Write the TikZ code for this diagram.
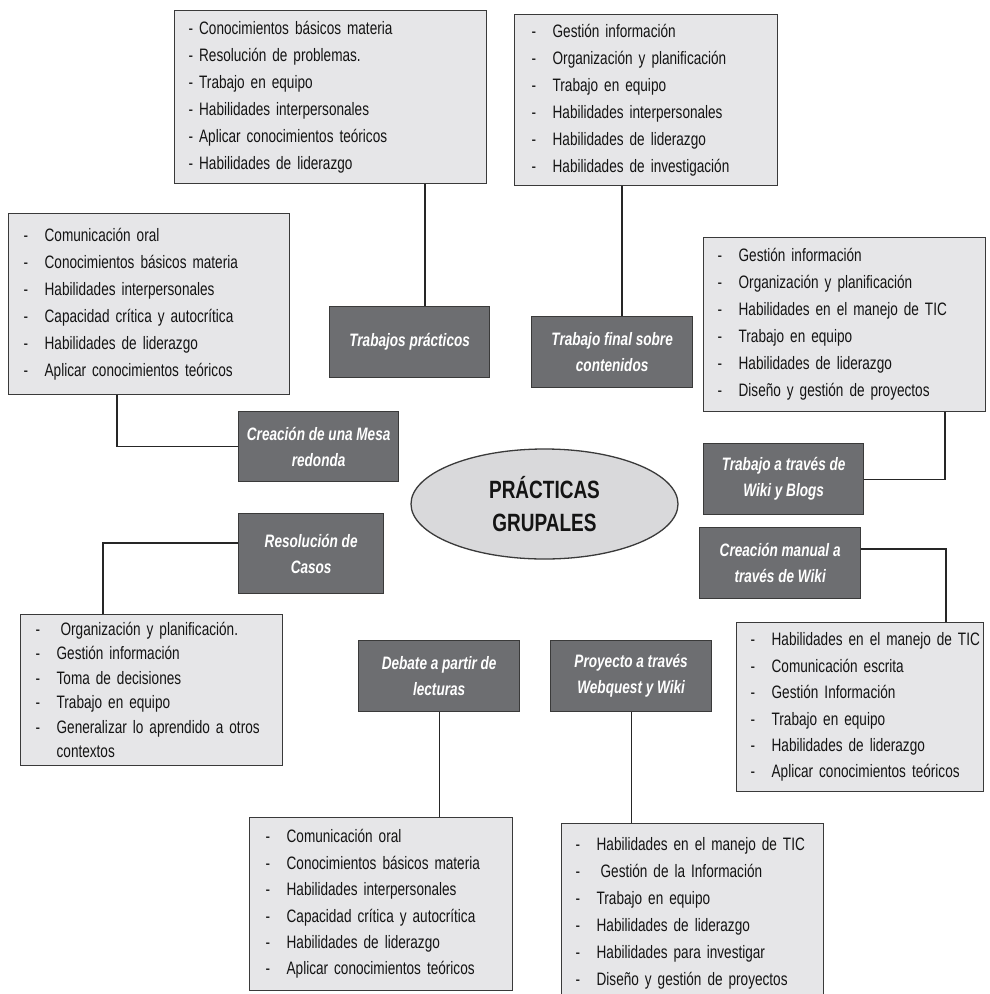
\documentclass[tikz,border=0pt]{standalone}
\usepackage{fontspec}
\setmainfont{Liberation Sans}[FakeStretch=0.755]
\newfontfamily\elfont{Liberation Sans}[FakeStretch=0.76]
\usetikzlibrary{shapes.geometric,calc}
\definecolor{listfill}{HTML}{E6E6E8}
\definecolor{darkfill}{HTML}{6D6E71}
\definecolor{ellfill}{HTML}{D9D9DB}
\definecolor{edgecol}{HTML}{3A3A3A}
\definecolor{txtcol}{HTML}{141414}
\newcommand\itm[1]{\mbox{\makebox[21pt][l]{-}#1}}
\tikzset{
  listbox/.style={draw=edgecol, line width=1.3pt, fill=listfill, anchor=north west,
    align=left, text=txtcol, font=\fontsize{18}{27}\selectfont, inner ysep=0pt},
  titlebox/.style={draw=edgecol, line width=1.3pt, fill=darkfill, text=white,
    font=\fontsize{18}{26}\selectfont\bfseries\itshape, align=center,
    anchor=north west, inner sep=0pt},
  conn/.style={line width=1.1pt, draw=black!85}
}
\begin{document}
\begin{tikzpicture}[x=1pt,y=-1pt]
\useasboundingbox (0,0) rectangle (989,994);
\clip (0,0) rectangle (989,994);
\fill[white] (0,0) rectangle (989,994);

% list boxes
\node[listbox, text width=284pt, inner xsep=14pt, minimum height=173pt] (b1) at (174,10)
 {\mbox{- Conocimientos básicos materia}\\\mbox{- Resolución de problemas.}\\\mbox{- Trabajo en equipo}\\\mbox{- Habilidades interpersonales}\\\mbox{- Aplicar conocimientos teóricos}\\\mbox{- Habilidades de liderazgo}};
\node[listbox, text width=229pt, inner xsep=17pt, minimum height=171pt] (b2) at (514,14)
 {\itm{Gestión información}\\\itm{Organización y planificación}\\\itm{Trabajo en equipo}\\\itm{Habilidades interpersonales}\\\itm{Habilidades de liderazgo}\\\itm{Habilidades de investigación}};
\node[listbox, text width=251pt, inner xsep=15pt, minimum height=181pt] (b3) at (8,213)
 {\itm{Comunicación oral}\\\itm{Conocimientos básicos materia}\\\itm{Habilidades interpersonales}\\\itm{Capacidad crítica y autocrítica}\\\itm{Habilidades de liderazgo}\\\itm{Aplicar conocimientos teóricos}};
\node[listbox, text width=254pt, inner xsep=14pt, minimum height=174pt] (b4) at (703,237)
 {\itm{Gestión información}\\\itm{Organización y planificación}\\\itm{Habilidades en el manejo de TIC}\\\itm{Trabajo en equipo}\\\itm{Habilidades de liderazgo}\\\itm{Diseño y gestión de proyectos}};
\node[listbox, text width=219pt, inner xsep=14pt, minimum height=169pt, font=\fontsize{18}{26.4}\selectfont] (b5) at (736,622)
 {\itm{Habilidades en el manejo de TIC}\\\itm{Comunicación escrita}\\\itm{Gestión Información}\\\itm{Trabajo en equipo}\\\itm{Habilidades de liderazgo}\\\itm{Aplicar conocimientos teóricos}};
\node[listbox, text width=232pt, inner xsep=15pt, minimum height=151pt,
      font=\fontsize{18}{24.5}\selectfont] (b6) at (20,614)
 {\itm{\hspace{4pt}Organización y planificación.}\\\itm{Gestión información}\\\itm{Toma de decisiones}\\\itm{Trabajo en equipo}\\\itm{\makebox[209pt][s]{Generalizar lo aprendido a otros}}\\\hspace*{21pt}contextos};
\node[listbox, text width=231pt, inner xsep=16pt, minimum height=173pt, font=\fontsize{18}{26.4}\selectfont] (b7) at (249,817)
 {\itm{Comunicación oral}\\\itm{Conocimientos básicos materia}\\\itm{Habilidades interpersonales}\\\itm{Capacidad crítica y autocrítica}\\\itm{Habilidades de liderazgo}\\\itm{Aplicar conocimientos teóricos}};
\node[listbox, text width=234pt, inner xsep=14pt, minimum height=180pt] (b8) at (561,823)
 {\itm{Habilidades en el manejo de TIC}\\\itm{\hspace{4pt}Gestión de la Información}\\\itm{Trabajo en equipo}\\\itm{Habilidades de liderazgo}\\\itm{Habilidades para investigar}\\\itm{Diseño y gestión de proyectos}};

% title boxes
\node[titlebox, minimum width=160pt, minimum height=71pt] (tp) at (329,306) {Trabajos prácticos};
\node[titlebox, minimum width=161pt, minimum height=71pt] (tf) at (531,316) {Trabajo final sobre\\contenidos};
\node[titlebox, minimum width=160pt, minimum height=70pt] (mesa) at (238,411) {Creación de una Mesa\\redonda};
\node[titlebox, minimum width=145pt, minimum height=80pt] (res) at (238,513) {Resolución de\\Casos};
\node[titlebox, minimum width=160pt, minimum height=71pt] (wiki) at (703,443) {Trabajo a través de\\Wiki y Blogs};
\node[titlebox, minimum width=161pt, minimum height=71pt] (man) at (699,527) {Creación manual a\\través de Wiki};
\node[titlebox, minimum width=161pt, minimum height=71pt] (deb) at (358,640) {Debate a partir de\\lecturas};
\node[titlebox, minimum width=161pt, minimum height=71pt] (pro) at (550,640) {Proyecto a través\\Webquest y Wiki};

% centre ellipse
\node[ellipse, draw=edgecol, line width=1.3pt, fill=ellfill, minimum width=267pt,
      minimum height=110pt, inner sep=0pt, align=center, text=txtcol,
      font=\elfont\fontsize{25}{33}\selectfont\bfseries] (core) at (544.5,504) {PRÁCTICAS\\GRUPALES};

% connectors
\coordinate (k1) at (425,0);
\coordinate (k2) at (622,0);
\coordinate (k3) at (117,0);
\coordinate (k4) at (945,0);
\coordinate (k5) at (946,549);
\coordinate (k6) at (103,543);
\draw[conn] (k1 |- b1.south) -- (k1 |- tp.north);
\draw[conn] (k2 |- b2.south) -- (k2 |- tf.north);
\draw[conn] (k3 |- b3.south) |- (mesa.west);
\draw[conn] (k4 |- b4.south) |- (wiki.east);
\draw[conn] (k5 -| man.east) -- (k5) -- (k5 |- b5.north);
\draw[conn] (k6 -| res.west) -- (k6) -- (k6 |- b6.north);
\draw[conn] (deb.south) -- (deb.south |- b7.north);
\draw[conn] (pro.south) -- (pro.south |- b8.north);
\end{tikzpicture}
\end{document}
